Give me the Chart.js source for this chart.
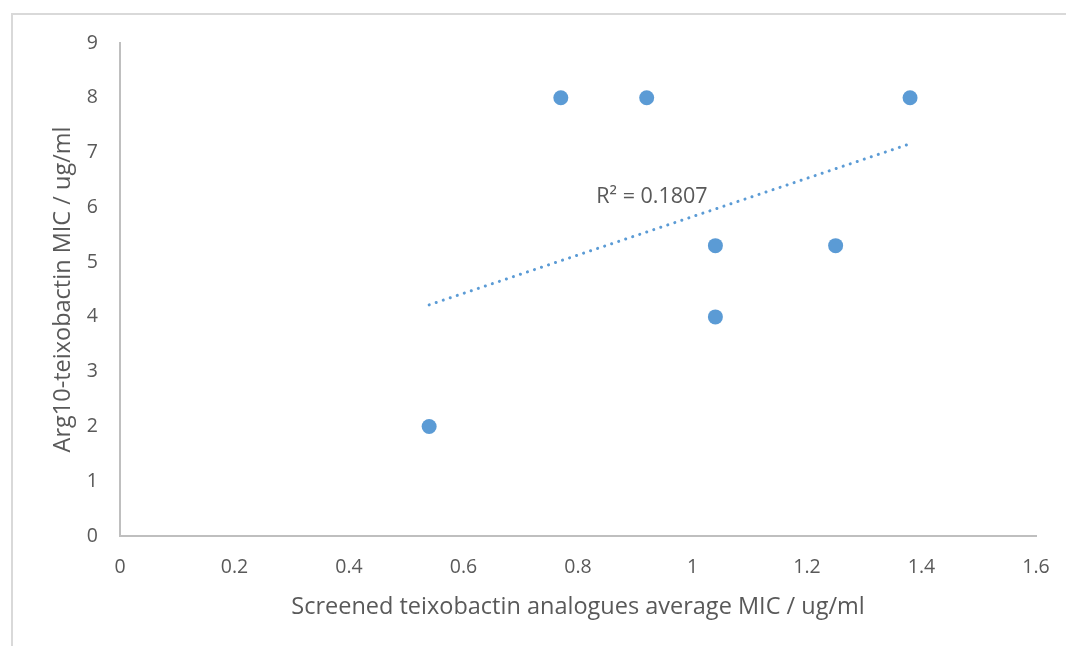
<!DOCTYPE html>
<html>
<head>
<meta charset="utf-8">
<script src="https://cdn.jsdelivr.net/npm/chart.js@4/dist/chart.umd.min.js"></script>
<style>
  html, body { margin: 0; padding: 0; background: #fff; overflow: hidden; }
  #wrap { position: relative; width: 1066px; height: 646px; overflow: hidden; }
  #frame { position: absolute; left: 11px; top: 13px; width: 1200px; height: 800px; border: 2px solid #d9d9d9; box-sizing: border-box; }
  #chart { position: absolute; left: 0; top: 0; }
</style>
</head>
<body>
<div id="wrap">
  <div id="frame"></div>
  <canvas id="chart" width="1066" height="646"></canvas>
</div>
<script>
// average MIC of screened analogues vs Arg10-teixobactin MIC
const avgMic = [0.54, 0.77, 0.92, 1.04, 1.04, 1.25, 1.38];
const argMic = [2, 8, 8, 5.3, 4, 5.3, 8];

// linear trendline ends
const trendX = [0.54, 1.38];
const trendY = [4.22, 7.16];
const r2Text = "R\u00b2 = 0.1807";

const BLUE = "#5b9bd5";
const GREY_TXT = "#595959";
const FONT = "'Open Sans', 'Noto Sans', sans-serif";

const r2Label = {
  id: "r2Label",
  afterDatasetsDraw(chart) {
    const { ctx, scales } = chart;
    const x = scales.x.getPixelForValue(0.832);
    const y = scales.y.getPixelForValue(6.2);
    ctx.save();
    ctx.font = `21.5px ${FONT}`;
    ctx.fillStyle = GREY_TXT;
    ctx.textAlign = "left";
    ctx.textBaseline = "middle";
    ctx.fillText(r2Text, x, y);
    ctx.restore();
  },
};

const fmt = (v) => String(Math.round(v * 10) / 10);

new Chart(document.getElementById("chart"), {
  type: "scatter",
  data: {
    datasets: [
      {
        label: "Arg10",
        data: avgMic.map((x, i) => ({ x, y: argMic[i] })),
        backgroundColor: BLUE,
        borderColor: BLUE,
        pointRadius: 7.5,
        pointHoverRadius: 7.5,
        borderWidth: 0,
      },
      {
        type: "line",
        label: "trend",
        data: trendX.map((x, i) => ({ x, y: trendY[i] })),
        borderColor: BLUE,
        borderWidth: 3,
        borderDash: [0.1, 7.3],
        borderCapStyle: "round",
        pointRadius: 0,
        fill: false,
      },
    ],
  },
  options: {
    responsive: false,
    animation: false,
    layout: { padding: { left: 0, right: 0, top: 43, bottom: 0 } },
    plugins: {
      legend: { display: false },
      tooltip: { enabled: false },
    },
    scales: {
      x: {
        type: "linear",
        min: 0,
        max: 1.6,
        ticks: { stepSize: 0.2, color: GREY_TXT, font: { family: FONT, size: 19.5 }, padding: 20, callback: fmt },
        grid: { display: false, drawTicks: false },
        border: { color: "#bfbfbf", width: 2 },
        title: {
          display: true,
          text: "Screened teixobactin analogues average MIC / ug/ml",
          color: GREY_TXT,
          font: { family: FONT, size: 23.5 },
          padding: { top: 10, bottom: 25 },
        },
        afterFit(s) { s.height = 110; s.paddingLeft = 0; s.paddingRight = 30; },
      },
      y: {
        type: "linear",
        min: 0,
        max: 9,
        ticks: { stepSize: 1, color: GREY_TXT, font: { family: FONT, size: 19.5 }, padding: 22, callback: fmt },
        grid: { display: false, drawTicks: false },
        border: { color: "#bfbfbf", width: 2 },
        title: {
          display: true,
          text: "Arg10-teixobactin MIC / ug/ml",
          color: GREY_TXT,
          font: { family: FONT, size: 23.5 },
          padding: { top: 49, bottom: 0 },
        },
        afterFit(s) { s.width = 120; s.paddingTop = 0; s.paddingBottom = 0; },
      },
    },
  },
  plugins: [r2Label],
});
</script>
</body>
</html>
